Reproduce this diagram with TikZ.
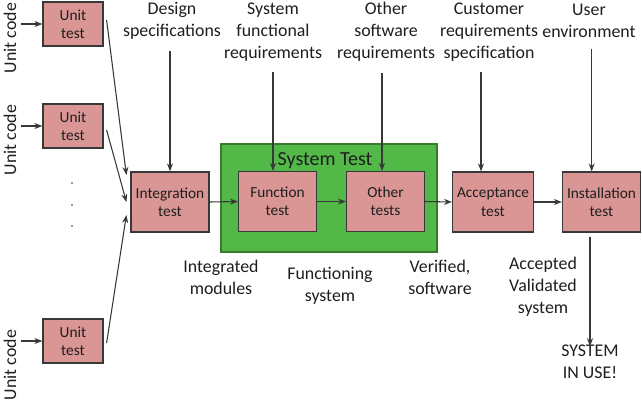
\documentclass[tikz,border=0pt]{standalone}
\usepackage{fontspec}
\setmainfont{Carlito}
\usepackage{tikz}
\usetikzlibrary{arrows.meta, positioning, calc}
\definecolor{tpBox}{HTML}{D99694}
\definecolor{tpLine}{HTML}{383838}
\definecolor{tpGreen}{HTML}{52B848}
\definecolor{tpGreenDark}{HTML}{3A7A2C}
\definecolor{tpText}{HTML}{1E1E1E}
\tikzset{
  tp-box/.style={
    rectangle, draw=tpLine, fill=tpBox, line width=0.9pt,
    minimum width=58.5pt, minimum height=45pt, align=center,
    text=tpText, font=\fontsize{11.5}{13.75}\selectfont
  },
  tp-unit/.style={tp-box, minimum width=45pt, minimum height=33pt},
  tp-group/.style={
    rectangle, draw=tpGreenDark, fill=tpGreen, line width=0.9pt,
    minimum width=162pt, minimum height=81pt
  },
  tp-label/.style={align=center, text=tpText, inner sep=1pt,
    font=\fontsize{13.4}{16.5}\selectfont},
  tp-flow/.style={-{Stealth[length=6pt,width=4.5pt]}, line width=0.8pt, draw=tpLine},
}

\begin{document}
\begin{tikzpicture}[x=0.75pt, y=-0.75pt]
  \useasboundingbox (0,0) rectangle (642,401);

  \node[tp-group] (systest) at (329,198) {};
  \node[tp-label, font=\fontsize{15}{18}\selectfont] (systitle) at (325,161) {System Test};

  \node[tp-unit] (ut1) at (73,24) {Unit\\test};
  \node[tp-unit] (ut2) at (73,126) {Unit\\test};
  \node[tp-unit] (ut3) at (73,341) {Unit\\test};

  \node[tp-box] (int) at (170,202) {Integration\\test};
  \node[tp-box] (fun) at (277.5,201.5) {Function\\test};
  \node[tp-box] (oth) at (385.5,201.5) {Other\\tests};
  \node[tp-box] (acc) at (493,202) {Acceptance\\test};
  \node[tp-box] (inst) at (601.5,202) {Installation\\test};

  \node[tp-label, rotate=90] (uc1) at (10,38) {Unit code};
  \node[tp-label, rotate=90] (uc2) at (10,140) {Unit code};
  \node[tp-label, rotate=90] (uc3) at (10,365) {Unit code};

  \node[tp-label] (design) at (172,21) {Design\\specifications};
  \node[tp-label] (sysreq) at (273,32) {System\\functional\\requirements};
  \node[tp-label] (othreq) at (386,32) {Other\\software\\requirements};
  \node[tp-label] (cusreq) at (489,32) {Customer\\requirements\\specification};
  \node[tp-label] (userenv) at (589,21) {User\\environment};

  \node[tp-label] (intmod) at (221,277) {Integrated\\modules};
  \node[tp-label] (funsys) at (330,286) {Functioning\\system};
  \node[tp-label] (versw) at (440,277) {Verified,\\software};
  \node[tp-label] (accsys) at (543,287) {Accepted\\Validated\\system};
  \node[tp-label] (inuse) at (590,362) {SYSTEM\\IN USE!};

  \foreach \dy in {183,205,226} \fill[tpLine] (72,\dy) circle (0.7pt);

  \draw[tp-flow, shorten <=2pt] (uc1.south |- ut1.west) -- (ut1.west);
  \draw[tp-flow, shorten <=2pt] (uc2.south |- ut2.west) -- (ut2.west);
  \draw[tp-flow, shorten <=2pt] (uc3.south |- ut3.west) -- (ut3.west);

  \draw[tp-flow] ([shift={(3,-4)}]ut1.east) -- ([shift={(-4,-27)}]int.west);
  \draw[tp-flow] ([shift={(3,4)}]ut2.east) -- ([shift={(-4,0)}]int.west);
  \draw[tp-flow] ([shift={(3,2)}]ut3.east) -- ([shift={(-4,13)}]int.west);

  \draw[tp-flow, shorten <=7pt] (design.south -| int.north) -- (int.north);
  \draw[tp-flow, shorten <=7pt] (sysreq.south) -- (sysreq.south |- fun.north);
  \draw[tp-flow, shorten <=7pt] ([xshift=-3]othreq.south) -- ([xshift=-3]othreq.south |- oth.north);
  \draw[tp-flow, shorten <=7pt] ([xshift=-6]cusreq.south) -- ([xshift=-6]cusreq.south |- acc.north);
  \draw[tp-flow, shorten <=7pt] ([xshift=2]userenv.south) -- ([xshift=2]userenv.south |- inst.north);

  \draw[tp-flow] (int.east) -- (fun.west);
  \draw[tp-flow] (fun.east) -- (oth.west);
  \draw[tp-flow] (oth.east) -- (acc.west);
  \draw[tp-flow] (acc.east) -- (inst.west);
  \draw[tp-flow, shorten <=3pt] (inst.south -| inuse.north) -- ([yshift=-2]inuse.north);
\end{tikzpicture}
\end{document}
